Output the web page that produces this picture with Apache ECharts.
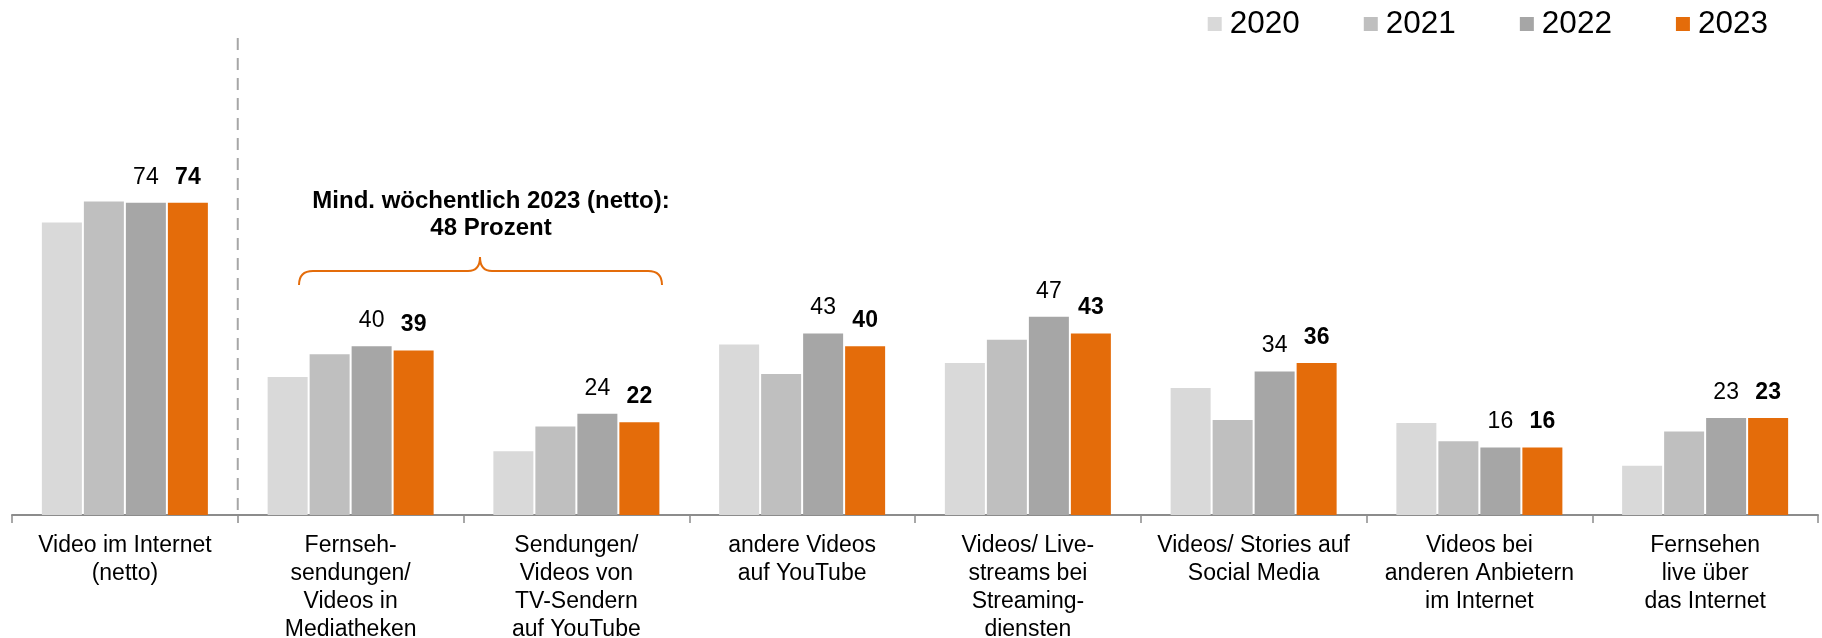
<!DOCTYPE html>
<html>
<head>
<meta charset="utf-8">
<script src="https://cdn.jsdelivr.net/npm/echarts@6/dist/echarts.min.js"></script>
<style>
html,body{margin:0;padding:0;background:#fff;}
#chart{width:1822px;height:638px;}
</style>
</head>
<body>
<div id="chart"></div>
<script>
const categories = [
  "Video im Internet\n(netto)",
  "Fernseh-\nsendungen/\nVideos in\nMediatheken",
  "Sendungen/\nVideos von\nTV-Sendern\nauf YouTube",
  "andere Videos\nauf YouTube",
  "Videos/ Live-\nstreams bei\nStreaming-\ndiensten",
  "Videos/ Stories auf\nSocial Media",
  "Videos bei\nanderen Anbietern\nim Internet",
  "Fernsehen\nlive über\ndas Internet"
];
const years = ["2020", "2021", "2022", "2023"];
const values2020 = [69.3, 32.7, 15.1, 40.4, 36.0, 30.1, 21.8, 11.7];
const values2021 = [74.3, 38.1, 21.0, 33.4, 41.5, 22.5, 17.5, 19.8];
const values2022 = [74, 40, 24, 43, 47, 34, 16, 23];
const values2023 = [74, 39, 22, 40, 43, 36, 16, 23];
const colors = ["#d9d9d9", "#bfbfbf", "#a6a6a6", "#e46c0a"];
const annotationText = "Mind. wöchentlich 2023 (netto):\n48 Prozent";

const FONT = "'Liberation Sans', Arial, sans-serif";
const chart = echarts.init(document.getElementById('chart'), null, {renderer: 'canvas'});

function barSeries(name, data, color, label) {
  return {
    name: name,
    type: 'bar',
    data: data,
    barWidth: 40,
    barGap: '5%',
    itemStyle: {color: color},
    label: label,
    emphasis: {disabled: true}
  };
}

const option = {
  animation: false,
  textStyle: {fontFamily: FONT},
  color: colors,
  legend: {
    data: years,
    right: 49,
    top: 3,
    itemWidth: 14,
    itemHeight: 14,
    itemGap: 64,
    icon: 'rect',
    textStyle: {fontSize: 31.5, color: '#000', fontFamily: FONT, padding: [0, 0, 0, 3]}
  },
  grid: {left: 12, right: 4, top: 93, bottom: 123, containLabel: false, outerBoundsMode: 'none'},
  xAxis: {
    type: 'category',
    data: categories,
    boundaryGap: true,
    axisLine: {show: true, lineStyle: {color: '#8c8c8c', width: 2}},
    axisTick: {show: true, alignWithLabel: false, length: 8, lineStyle: {color: '#8c8c8c', width: 1.5}},
    axisLabel: {
      interval: 0,
      margin: 17,
      fontSize: 23,
      lineHeight: 28,
      color: '#000',
      fontFamily: FONT,
      align: 'center'
    }
  },
  yAxis: {
    type: 'value',
    min: 0,
    max: 100,
    show: false,
    splitLine: {show: false}
  },
  series: [
    barSeries(years[0], values2020, colors[0], {show: false}),
    barSeries(years[1], values2021, colors[1], {show: false}),
    barSeries(years[2], values2022, colors[2], {
      show: true, position: 'top', distance: 14, fontSize: 23, color: '#000', fontFamily: FONT
    }),
    barSeries(years[3], values2023, colors[3], {
      show: true, position: 'top', distance: 14, fontSize: 23, fontWeight: 'bold', color: '#000', fontFamily: FONT
    })
  ]
};
chart.setOption(option);

// separator between the first category and the rest
const p0 = chart.convertToPixel({xAxisIndex: 0}, 0);
const p1 = chart.convertToPixel({xAxisIndex: 0}, 1);
const sepX = (p0 + p1) / 2;
const baseY = chart.convertToPixel({yAxisIndex: 0}, 0);

const ORANGE = '#e46c0a';
const bStyle = {stroke: ORANGE, lineWidth: 2, fill: null};
const L = 299, R = 662, C = 480, H = 271, E = 285, P = 257;

chart.setOption({
  graphic: [
    {
      type: 'line',
      shape: {x1: sepX, y1: 38, x2: sepX, y2: baseY},
      style: {stroke: '#a6a6a6', lineWidth: 2, lineDash: [12, 8]},
      silent: true
    },
    {type: 'bezierCurve', shape: {x1: L, y1: E, cpx1: L, cpy1: H, x2: L + 14, y2: H}, style: bStyle, silent: true},
    {type: 'line', shape: {x1: L + 14, y1: H, x2: C - 12, y2: H}, style: bStyle, silent: true},
    {type: 'bezierCurve', shape: {x1: C - 12, y1: H, cpx1: C, cpy1: H, x2: C, y2: P}, style: bStyle, silent: true},
    {type: 'bezierCurve', shape: {x1: C, y1: P, cpx1: C, cpy1: H, x2: C + 12, y2: H}, style: bStyle, silent: true},
    {type: 'line', shape: {x1: C + 12, y1: H, x2: R - 14, y2: H}, style: bStyle, silent: true},
    {type: 'bezierCurve', shape: {x1: R - 14, y1: H, cpx1: R, cpy1: H, x2: R, y2: E}, style: bStyle, silent: true},
    {
      type: 'text',
      x: 491,
      y: 215,
      style: {
        text: annotationText,
        fontSize: 24,
        fontWeight: 'bold',
        fontFamily: FONT,
        lineHeight: 27.5,
        fill: '#000',
        align: 'center',
        verticalAlign: 'middle'
      },
      silent: true
    }
  ]
});
</script>
</body>
</html>
